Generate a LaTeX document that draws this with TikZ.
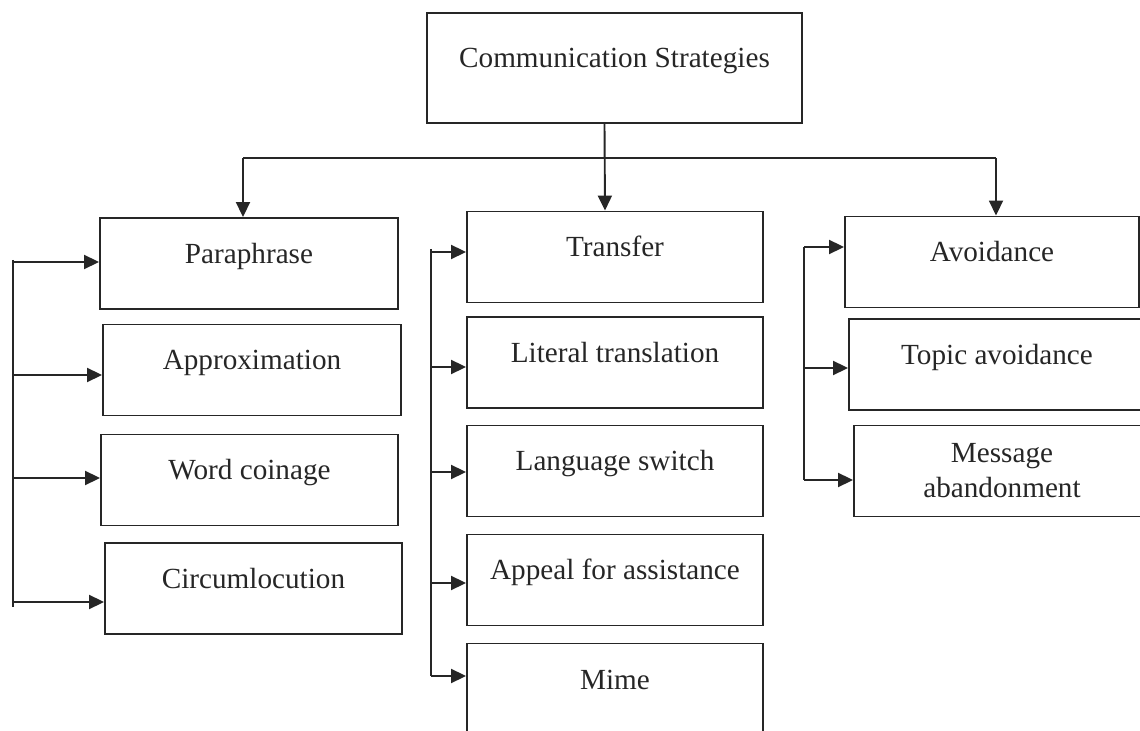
\documentclass[tikz,border=0pt]{standalone}
\usepackage{fontspec}
\setmainfont{Liberation Serif}
\usetikzlibrary{arrows.meta,calc}

\tikzset{
  stratbox/.style={draw,rectangle,inner sep=0pt,minimum width=148pt,minimum height=45.5pt,
    text height=7pt,text depth=7pt,font=\fontsize{14.6}{17.5}\selectfont},
  >={Triangle[length=7.5pt,width=7pt]}
}

\begin{document}
\begin{tikzpicture}[x=0.5pt,y=-0.5pt,line width=0.95pt,color=black!85]
\useasboundingbox (0,0) rectangle (1140,731); \clip (0,0) rectangle (1140,731);

\node[stratbox,minimum width=187.5pt,minimum height=55pt] (top) at (614.5,68) {Communication Strategies};

% left column
\node[stratbox,minimum width=149pt] (para) at (249,263.5) {Paraphrase};
\node[stratbox,minimum width=149pt] (approx) at (252,370) {Approximation};
\node[stratbox,minimum width=148.5pt] (coin) at (249.5,480) {Word coinage};
\node[stratbox,minimum width=148.5pt] (circ) at (253.5,588.5) {Circumlocution};

% middle column
\node[stratbox] (trans) at (615,257) {Transfer};
\node[stratbox] (literal) at (615,362.5) {Literal translation};
\node[stratbox] (switch) at (615,471) {Language switch};
\node[stratbox] (appeal) at (615,580) {Appeal for assistance};
\node[stratbox] (mime) at (615,689) {Mime};

% right column
\node[stratbox,minimum width=147pt] (avoid) at (992,262) {Avoidance};
\node[stratbox] (topic) at (997,364.5) {Topic avoidance};
\node[stratbox,align=center,text height={},text depth={}] (msg) at (1002,471) {Message\\abandonment};

\draw [->] ([xshift=-5pt]top.south) -- ([xshift=-5pt]trans.north);
\coordinate (barL) at (243,158); \coordinate (barR) at (996,158);
\draw (barL) -- (barR);
\draw [->] (barL) -- (barL |- para.north);
\draw [->] (barR) -- (barR |- avoid.north);

\coordinate (busL) at (13,260); \coordinate (busLend) at (13,607); \draw (busL) -- (busLend);
\foreach \n/\y in {para/262,approx/375,coin/478,circ/602}
  {\coordinate (tap-\n) at (13,\y); \draw [->] (tap-\n) -- (tap-\n -| \n.west);}

\coordinate (busM) at (431,249); \coordinate (busMend) at (431,676); \draw (busM) -- (busMend);
\foreach \n/\y in {trans/252,literal/367,switch/472,appeal/583,mime/676}
  {\coordinate (tap-\n) at (431,\y); \draw [->] (tap-\n) -- (tap-\n -| \n.west);}

\coordinate (busR) at (804,247); \coordinate (busRend) at (804,480); \draw (busR) -- (busRend);
\foreach \n/\y in {avoid/247,topic/368,msg/480}
  {\coordinate (tap-\n) at (804,\y); \draw [->] (tap-\n) -- (tap-\n -| \n.west);}
\end{tikzpicture}
\end{document}
